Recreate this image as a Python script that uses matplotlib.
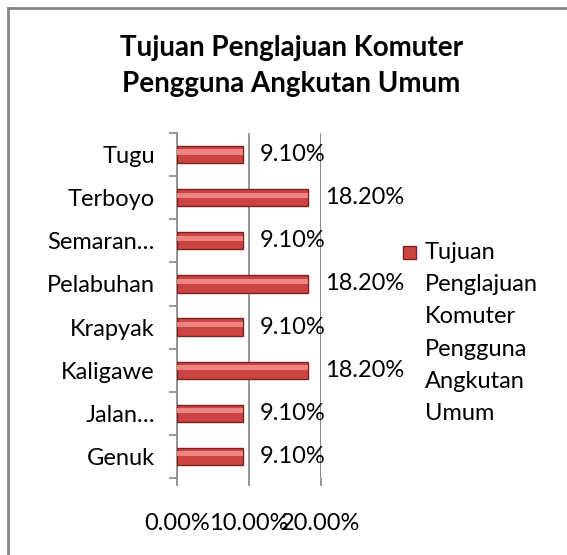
import numpy as np
import matplotlib
matplotlib.use('Agg')
import matplotlib.pyplot as plt
from matplotlib.patches import Rectangle
from matplotlib.lines import Line2D

plt.rcParams['font.family'] = ['Lato', 'DejaVu Sans']

# data (bottom to top, as the chart draws it)
categories = ['Genuk', 'Jalan…', 'Kaligawe', 'Krapyak', 'Pelabuhan',
              'Semaran…', 'Terboyo', 'Tugu']
values = [9.10, 9.10, 18.20, 9.10, 18.20, 9.10, 18.20, 9.10]
x_ticks = [0, 10, 20]
x_ticklabels = ['0.00%', '10.00%', '20.00%']
title = 'Tujuan Penglajuan Komuter\nPengguna Angkutan Umum'
series_name = 'Tujuan\nPenglajuan\nKomuter\nPengguna\nAngkutan\nUmum'

W, H = 567, 555
fig = plt.figure(figsize=(W / 100, H / 100), dpi=100)
ax = fig.add_axes([177 / W, 1 - 478 / H, 144 / W, 345 / H])

grey = '#868686'
fs = 17
y = np.arange(len(categories))

# bars with a simple bevel look
ax.barh(y, values, height=0.4, color='#cc4441', edgecolor='#7d2222', linewidth=1.0, zorder=3)
ax.barh(y + 0.06, values, height=0.12, color='#ee8481', linewidth=0, zorder=4)
for yi, v in zip(y, values):
    ax.text(v + 2.4, yi, '%.2f%%' % v, va='center', ha='left', fontsize=fs, zorder=5)

ax.set_xlim(0, 20)
ax.set_ylim(-0.5, len(categories) - 0.5)

ax.set_yticks(y)
ax.set_yticklabels(categories, fontsize=fs)
ax.set_yticks(np.arange(-0.5, len(categories)), minor=True)
ax.tick_params(axis='y', which='major', length=0, pad=16)
ax.tick_params(axis='y', which='minor', length=6, color=grey, width=1.2)

ax.set_xticks(x_ticks)
ax.set_xticklabels(x_ticklabels, fontsize=fs)
ax.tick_params(axis='x', length=6, color=grey, width=1.2, pad=19)

ax.grid(axis='x', color=grey, linewidth=1.2, zorder=0)
for s in ['top', 'right', 'bottom']:
    ax.spines[s].set_visible(False)
ax.spines['left'].set_color(grey)
ax.spines['left'].set_linewidth(1.2)
ax.axvline(20, color=grey, linewidth=1.2, zorder=0)

# title
fig.text(291 / W, 1 - 66 / H, title, ha='center', va='center', fontsize=20,
         fontweight='bold', linespacing=1.5)

# legend drawn by hand
fig.patches.append(Rectangle((403 / W, 1 - 259 / H), 13 / W, 13 / H,
                             facecolor='#cc4441', edgecolor='#7d2222', linewidth=1.0,
                             transform=fig.transFigure, figure=fig))
fig.text(425 / W, 1 - 242 / H, series_name, ha='left', va='top', fontsize=fs,
         linespacing=1.66)

# chart frame (only top and left edges fall inside the picture)
fig.lines.append(Line2D([7.5 / W, 7.5 / W], [0, 1 - 8 / H], color=grey, linewidth=2,
                        transform=fig.transFigure, figure=fig))
fig.lines.append(Line2D([7.5 / W, 1], [1 - 8 / H, 1 - 8 / H], color=grey, linewidth=2,
                        transform=fig.transFigure, figure=fig))

fig.savefig('out.png', dpi=100)
